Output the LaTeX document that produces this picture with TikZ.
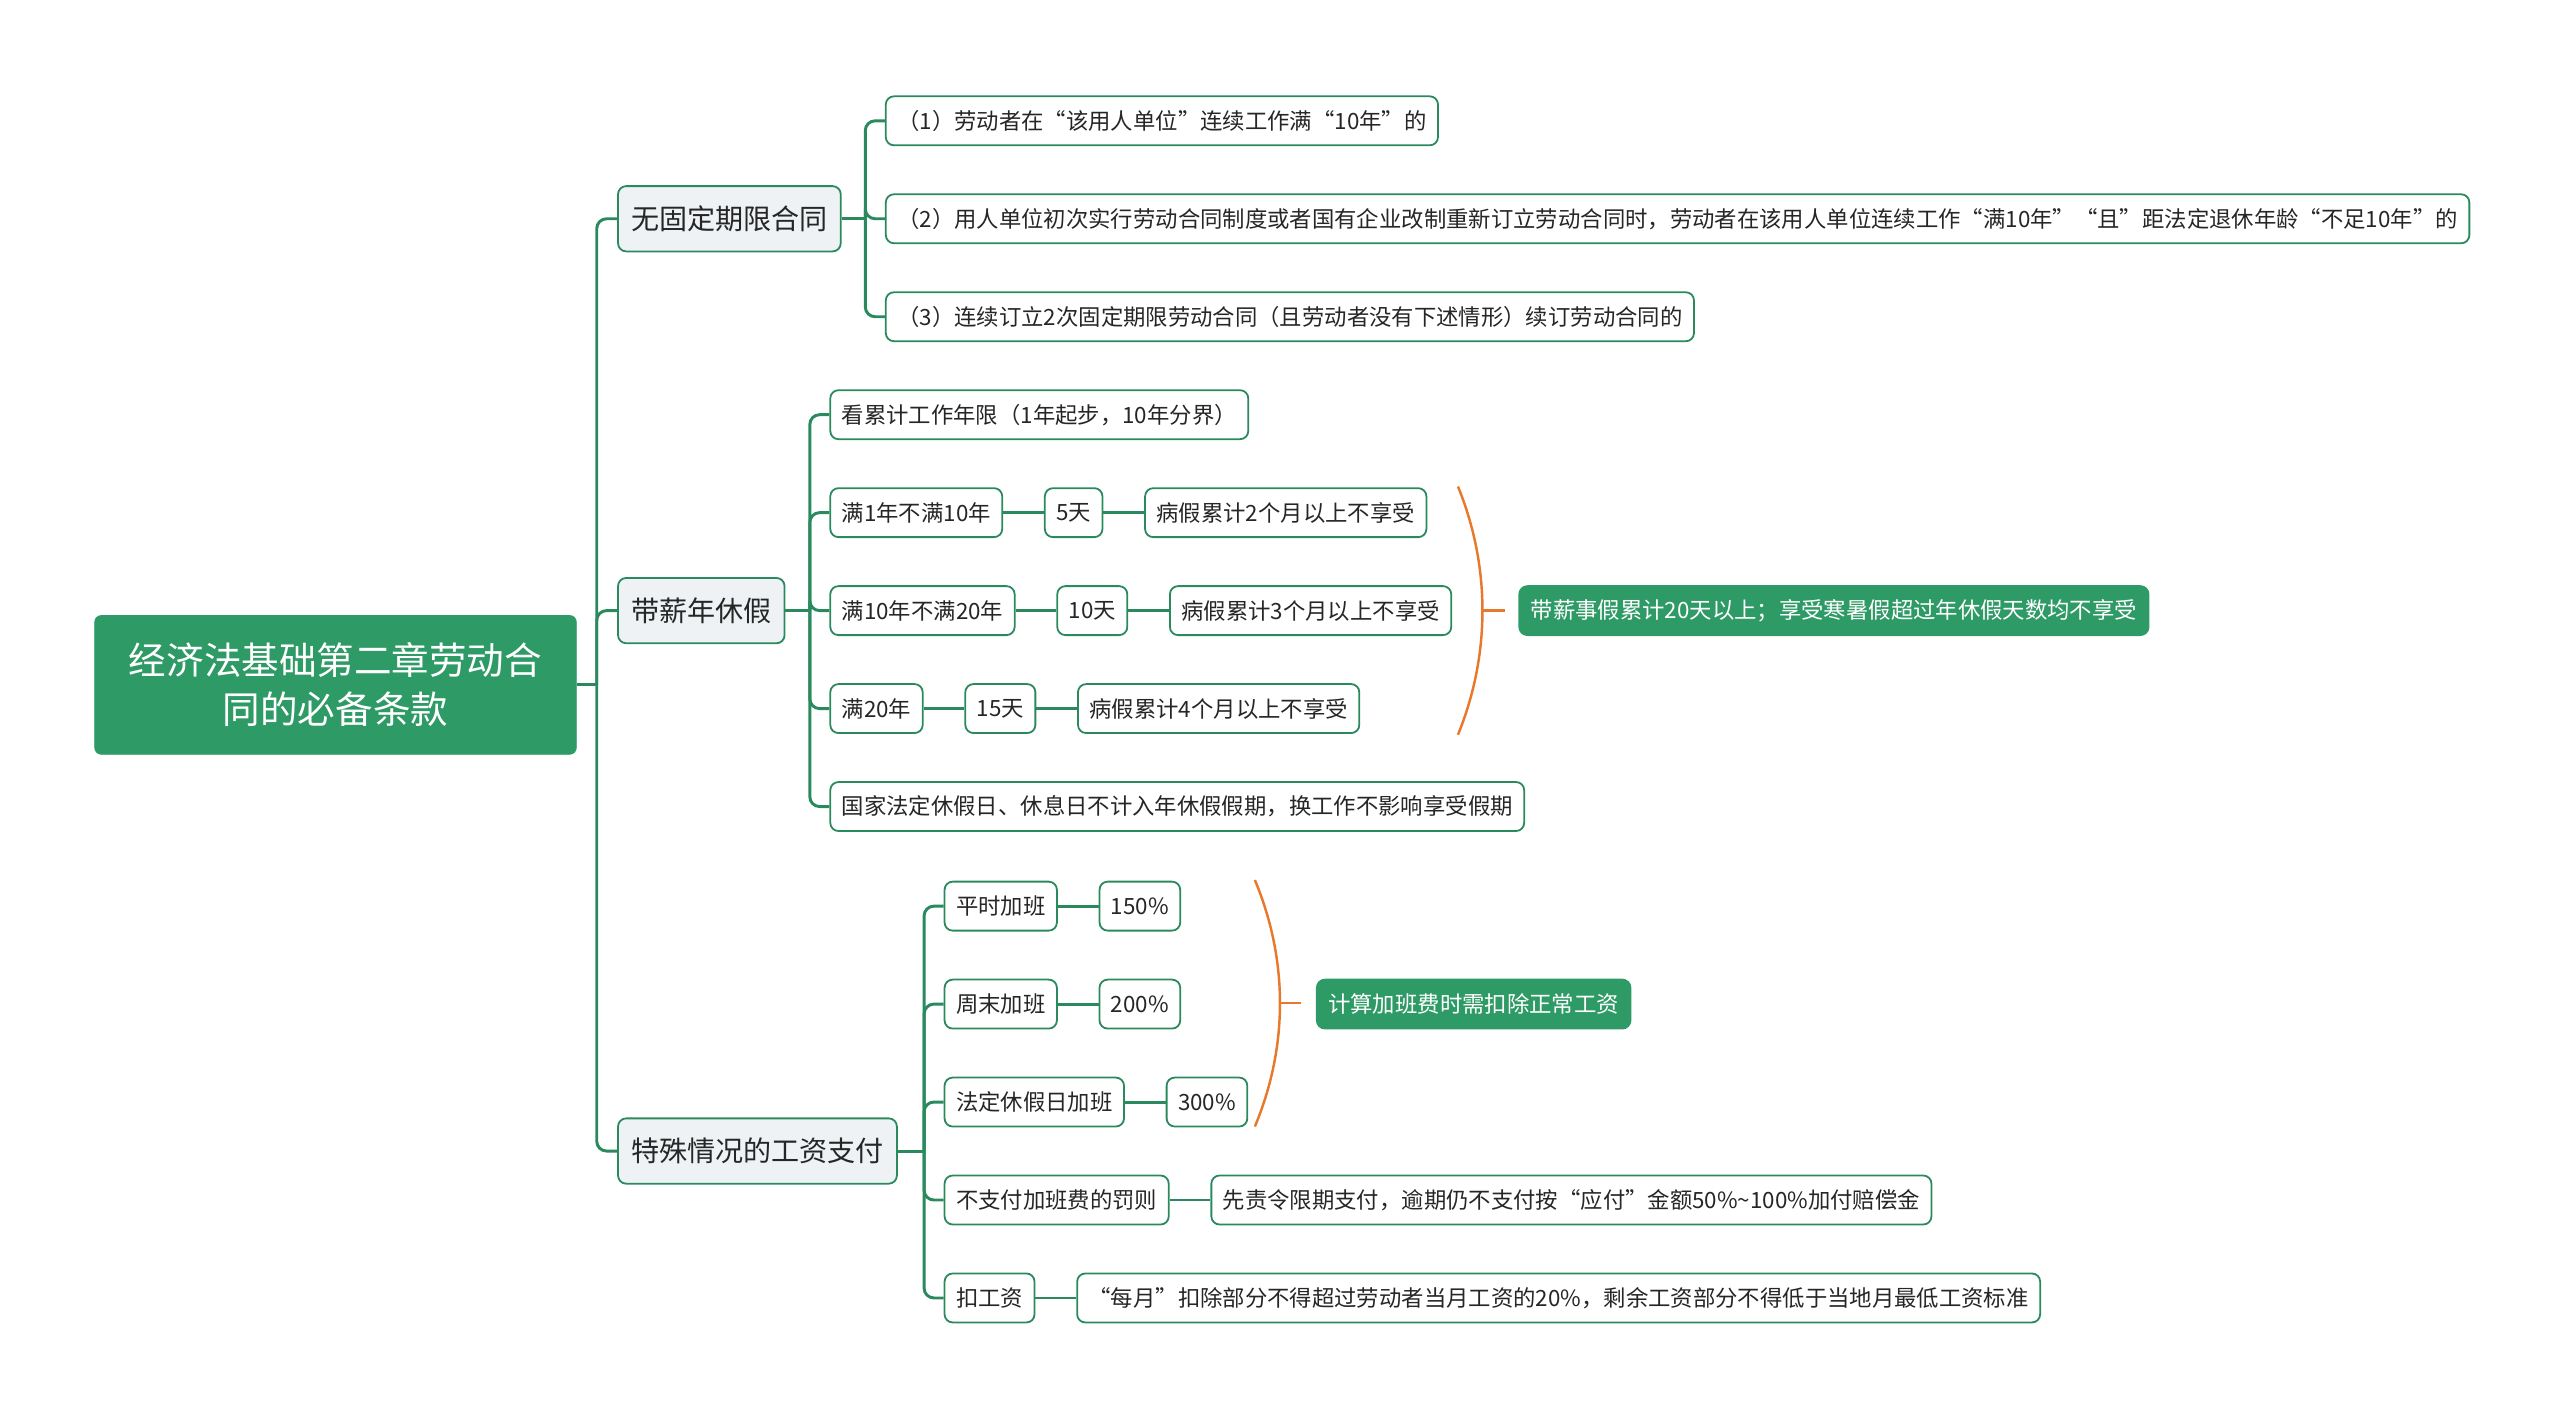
\documentclass[tikz,border=0pt]{standalone}
\usepackage{fontspec}
\setmainfont{Noto Sans CJK SC}
\usepackage{tikz}
\usetikzlibrary{positioning,calc}
\definecolor{mapgreen}{HTML}{2E9A66}
\definecolor{linegreen}{HTML}{2A8A5E}
\definecolor{topicfill}{HTML}{EEF2F4}
\definecolor{braceorange}{HTML}{E8782C}
\tikzset{
  rootbox/.style={fill=mapgreen, draw=mapgreen, rounded corners=4pt, text=white,
    align=center, font=\fontsize{23}{30}\selectfont, minimum width=295pt,
    minimum height=85pt},
  topic/.style={draw=linegreen, fill=topicfill, line width=1.1pt, rounded corners=5pt,
    font=\fontsize{17.2}{20}\selectfont, text=black!85, minimum height=40pt,
    inner xsep=8pt, anchor=west},
  leaf/.style={draw=linegreen, fill=white, line width=1.1pt, rounded corners=5pt,
    font=\fontsize{13.7}{16}\selectfont, text=black!85, minimum height=30pt,
    inner xsep=7pt, anchor=west},
  note/.style={leaf, fill=mapgreen, draw=mapgreen, text=white},
  link/.style={draw=linegreen, line width=1.8pt, rounded corners=6pt},
  brace/.style={draw=braceorange, line width=1.5pt},
}

\begin{document}
\begin{tikzpicture}[x=1pt,y=-1pt,node distance=25pt]
\useasboundingbox (0,0) rectangle (1568,869);
% one unit is one pixel of the map, measured from the top left corner
\node[rootbox] (root) at (205.5,419.5) {经济法基础第二章劳动合\\同的必备条款};
\node[topic] (tA) at (378,134) {无固定期限合同};
\node[topic] (tB) at (378,374) {带薪年休假};
\node[topic] (tC) at (378,705) {特殊情况的工资支付};
% open-ended contracts
\node[leaf] (a1) at (542,74) {（1）劳动者在“该用人单位”连续工作满“10年”的};
\node[leaf] (a2) at (542,134) {（2）用人单位初次实行劳动合同制度或者国有企业改制重新订立劳动合同时，劳动者在该用人单位连续工作“满10年”“且”距法定退休年龄“不足10年”的};
\node[leaf] (a3) at (542,194) {（3）连续订立2次固定期限劳动合同（且劳动者没有下述情形）续订劳动合同的};
% paid annual leave
\node[leaf] (b1) at (508,254) {看累计工作年限（1年起步，10年分界）};
\node[leaf] (b2) at (508,314) {满1年不满10年};
\node[leaf, right=of b2] (b2d) {5天};
\node[leaf, right=of b2d] (b2s) {病假累计2个月以上不享受};
\node[leaf] (b3) at (508,374) {满10年不满20年};
\node[leaf, right=of b3] (b3d) {10天};
\node[leaf, right=of b3d] (b3s) {病假累计3个月以上不享受};
\node[leaf] (b4) at (508,434) {满20年};
\node[leaf, right=of b4] (b4d) {15天};
\node[leaf, right=of b4d] (b4s) {病假累计4个月以上不享受};
\node[leaf] (b5) at (508,494) {国家法定休假日、休息日不计入年休假假期，换工作不影响享受假期};
\node[note] (bn) at (930,374) {带薪事假累计20天以上；享受寒暑假超过年休假天数均不享受};
% special wage cases
\node[leaf] (c1) at (578,555) {平时加班};
\node[leaf, right=of c1] (c1r) {150\%};
\node[leaf] (c2) at (578,615) {周末加班};
\node[leaf, right=of c2] (c2r) {200\%};
\node[leaf] (c3) at (578,675) {法定休假日加班};
\node[leaf, right=of c3] (c3r) {300\%};
\node[leaf] (c4) at (578,735) {不支付加班费的罚则};
\node[leaf, right=of c4] (c4r) {先责令限期支付，逾期仍不支付按“应付”金额50\%\textasciitilde100\%加付赔偿金};
\node[leaf] (c5) at (578,795) {扣工资};
\node[leaf, right=of c5] (c5r) {“每月”扣除部分不得超过劳动者当月工资的20\%，剩余工资部分不得低于当地月最低工资标准};
\node[note] (cn) at (806,615) {计算加班费时需扣除正常工资};
% branch junctions
\coordinate (rj) at (365.5,419.5);
\coordinate (aj) at (530,134);
\coordinate (bj) at (496,374);
\coordinate (cj) at (566,705);
\draw[link] (root.east) -- (rj);
\foreach \t in {tA,tB,tC}
  \draw[link] (rj) |- (\t.west);
\draw[link] (tA.east) -- (aj);
\foreach \l in {a1,a2,a3}
  \draw[link] (aj) |- (\l.west);
\draw[link] (tB.east) -- (bj);
\foreach \l in {b1,b2,b3,b4,b5}
  \draw[link] (bj) |- (\l.west);
\foreach \i in {2,3,4}{
  \draw[link] (b\i) -- (b\i d);
  \draw[link] (b\i d) -- (b\i s);}
\draw[link] (tC.east) -- (cj);
\foreach \l in {c1,c2,c3,c4,c5}{
  \draw[link] (cj) |- (\l.west);
  \draw[link] (\l) -- (\l r);}
% summary brackets, near-circular arcs
\coordinate (btop) at (893,298);
\coordinate (bmid) at (908,374);
\coordinate (bbot) at (893,450);
\coordinate (btick) at (922,374);
\draw[brace] (btop) .. controls (913,347) and (913,401) .. (bbot);
\draw[brace] (bmid) -- (btick);
\coordinate (ctop) at (768.6,539);
\coordinate (cmid) at (784,614.5);
\coordinate (cbot) at (768.6,690);
\coordinate (ctick) at (797,614.5);
\draw[brace] (ctop) .. controls (789.1,588) and (789.1,641) .. (cbot);
\draw[brace] (cmid) -- (ctick);
\end{tikzpicture}
\end{document}
